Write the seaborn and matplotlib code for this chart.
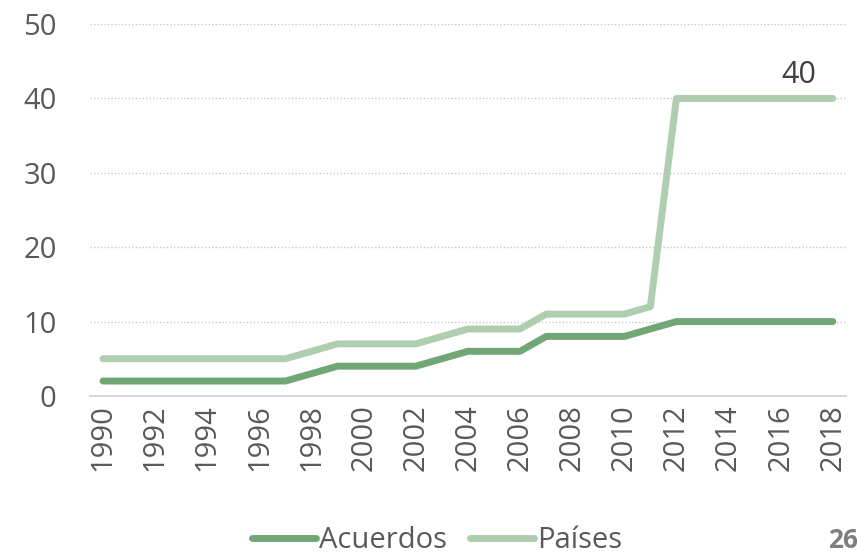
import numpy as np
import pandas as pd
import matplotlib
matplotlib.use('Agg')
import matplotlib.pyplot as plt
import seaborn as sns

years = list(range(1990, 2019))
acuerdos = [2, 2, 2, 2, 2, 2, 2, 2, 3, 4, 4, 4, 4, 5, 6, 6, 6, 8, 8, 8, 8, 9,
            10, 10, 10, 10, 10, 10, 10]
paises = [5, 5, 5, 5, 5, 5, 5, 5, 6, 7, 7, 7, 7, 8, 9, 9, 9, 11, 11, 11, 11, 12,
          40, 40, 40, 40, 40, 40, 40]
series_names = ['Acuerdos', 'Países']
colors = ['#71A675', '#AFCEB0']

df = pd.DataFrame({'Año': years * 2,
                   'Valor': acuerdos + paises,
                   'Serie': [series_names[0]] * len(years) + [series_names[1]] * len(years)})

sns.set_style('white')
plt.rcParams['font.family'] = ['Open Sans', 'DejaVu Sans']
text_color = '#595959'

fig = plt.figure(figsize=(8.57, 5.6), dpi=100)
ax = fig.add_axes([0.105, 0.293, 0.882, 0.664])

sns.lineplot(data=df, x='Año', y='Valor', hue='Serie', palette=colors,
             linewidth=5, solid_capstyle='round', ax=ax, legend=False)

ax.set_xlim(years[0] - 0.5, years[-1] + 0.5)
ax.set_ylim(0, 50)
ax.set_yticks(range(0, 51, 10))
ax.set_xticks(years[::2])
ax.set_xticklabels([str(y) for y in years[::2]], rotation=90)
ax.tick_params(axis='both', length=0, labelsize=21, labelcolor=text_color)
ax.tick_params(axis='y', pad=24)
ax.tick_params(axis='x', pad=6)
ax.set_xlabel('')
ax.set_ylabel('')

for y in range(10, 51, 10):
    ax.axhline(y, color='#C8C8C8', linestyle=(0, (1, 1.5)), linewidth=1, zorder=0)

for s in ['top', 'right', 'left']:
    ax.spines[s].set_visible(False)
ax.spines['bottom'].set_color('#D9D9D9')
ax.spines['bottom'].set_linewidth(1.5)

ax.annotate(str(paises[-1]), xy=(years[-1], paises[-1]), xytext=(-12, 6),
            textcoords='offset points', ha='right', va='bottom',
            fontsize=22, color='#404040')

handles = [plt.Line2D([], [], color=c, linewidth=5, solid_capstyle='round') for c in colors]
fig.legend(handles, series_names, loc='center', bbox_to_anchor=(0.51, 0.035),
           ncol=2, frameon=False, fontsize=21, labelcolor=text_color,
           handlelength=2.2, handletextpad=0.1, columnspacing=0.8)

fig.text(0.966, 0.035, '26', fontsize=19, fontweight='bold', color='#7F7F7F',
         va='center', ha='left')

fig.savefig('out.png', dpi=100)
